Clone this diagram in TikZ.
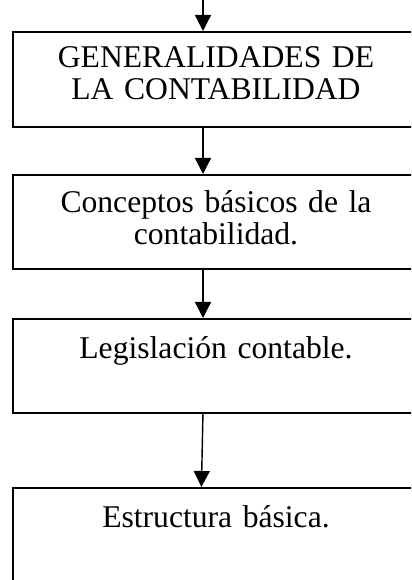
\documentclass[tikz,border=0pt]{standalone}
\usepackage{fontspec}
\setmainfont{Liberation Serif}
\usetikzlibrary{arrows.meta,calc}
\tikzset{
  flow schemes/.style = {
    % cuadros del esquema
    blockbox/.style = {
      draw, line width=1.4pt,
      anchor=north west,
      inner sep=0pt,
      text width=10.15cm,
      align=center,
      font=\fontsize{22.5}{22.5}\selectfont
    },
    % flechas
    connect line/.style = {line width=1pt,
      -{Triangle[width=0.4cm,length=0.4cm]}},
  }
}
\begin{document}
\begin{tikzpicture}[flow schemes]
  \useasboundingbox (0,0) rectangle (10.275,14.5);
  \clip (0,0) rectangle (10.275,14.5);

  \path (5.075,14.5) coordinate (start)
        (5.075,0)    coordinate (ax);

  \node[blockbox, text height=0.9cm, text depth=1.475cm] (gen) at (0.3,13.725)
    {GENERALIDADES DE\\LA CONTABILIDAD};
  \node[blockbox, text height=0.95cm, text depth=1.4cm] (conc) at (0.3,10.15)
    {Conceptos básicos de la\\contabilidad.};
  \node[blockbox, text height=1.0cm, text depth=1.35cm] (leg) at (0.3,6.55)
    {Legislación contable.};
  \node[blockbox, text height=1.0cm, text depth=1.6cm] (est) at (0.3,2.325)
    {Estructura básica.};

  \draw[connect line] (start) -- (gen.north -| ax);
  \draw[connect line] (gen.south -| ax) -- (conc.north -| ax);
  \draw[connect line] (conc.south -| ax) -- (leg.north -| ax);
  \draw[connect line] ($(leg.south -| ax)+(0,0.05)$) -- ([xshift=-0.04cm]est.north -| ax);
\end{tikzpicture}
\end{document}
